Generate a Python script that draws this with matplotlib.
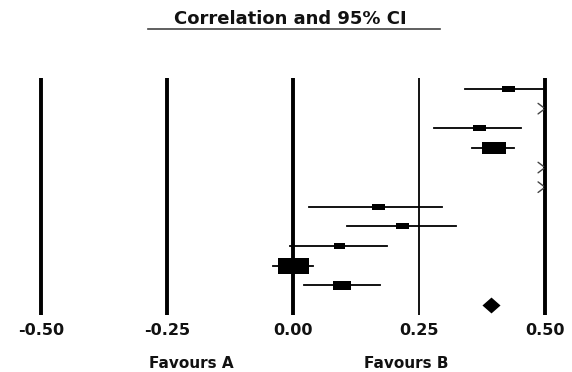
import numpy as np
import matplotlib
matplotlib.use("Agg")
import matplotlib.pyplot as plt
from matplotlib.path import Path
from matplotlib.lines import Line2D

# study rows, top to bottom (lo > 0.5 means off the scale)
est = [0.427, 0.62, 0.369, 0.399, 0.58, 0.60, 0.169, 0.216, 0.091, 0.000, 0.097]
lo = [0.341, 0.55, 0.280, 0.355, 0.52, 0.53, 0.032, 0.107, -0.006, -0.040, 0.022]
hi = [0.52, 0.69, 0.452, 0.438, 0.65, 0.68, 0.296, 0.323, 0.187, 0.040, 0.173]
weight = [13, 13, 13, 24, 13, 13, 13, 13, 11, 31, 18]
pooled = 0.393

ticks = [-0.50, -0.25, 0.00, 0.25, 0.50]
tick_labels = ["-0.50", "-0.25", "0.00", "0.25", "0.50"]
xmin, xmax = -0.50, 0.50

plt.rcParams['font.family'] = 'DejaVu Sans'

fig = plt.figure(figsize=(5.72, 3.72), dpi=100)
W, H = 572, 372
ax = fig.add_axes([30 / W, (H - 315) / H, 526 / W, 237 / H])

n = len(est) + 1
rows = np.arange(n)

# reference lines
widths = [2.8, 2.8, 2.8, 1.3, 2.8]
for t, lw in zip(ticks, widths):
    ax.axvline(t, color="black", lw=lw, zorder=1)

box = Path([(-1, -0.5), (1, -0.5), (1, 0.5), (-1, 0.5), (-1, -0.5)],
           [Path.MOVETO, Path.LINETO, Path.LINETO, Path.LINETO, Path.CLOSEPOLY])
diamond = Path([(0, 0.44), (0.5, 0), (0, -0.44), (-0.5, 0), (0, 0.44)],
               [Path.MOVETO, Path.LINETO, Path.LINETO, Path.LINETO, Path.CLOSEPOLY])

for i in range(len(est)):
    if lo[i] > xmax:
        # whole interval off the scale: arrow head at the edge
        y = rows[i]
        for dy in (3.8, -3.8):
            ax.annotate("", xy=(xmax, y), xytext=(-5, dy), textcoords="offset points",
                        arrowprops=dict(arrowstyle="-", color="#444444", lw=1.0,
                                        shrinkA=0, shrinkB=1.2))
        continue
    ax.plot([max(lo[i], xmin), min(hi[i], xmax)], [rows[i], rows[i]],
            color="black", lw=1.3, zorder=2)
    ax.plot(est[i], rows[i], marker=box, ms=weight[i] * 0.72,
            color="black", mew=0, zorder=3)

ax.plot(pooled, rows[-1], marker=diamond, ms=13, color="black", mew=0, zorder=3)

ax.set_xlim(-0.5 - 11 / 504, 0.5 + 11 / 504)
ax.set_ylim(n - 1 + 10 / 19.64, -11 / 19.64)
ax.set_xticks(ticks)
ax.set_xticklabels(tick_labels, fontsize=11.5, fontweight="bold", color="#111111")
ax.tick_params(axis="x", length=0, pad=6)
ax.set_yticks([])
for s in ax.spines.values():
    s.set_visible(False)

fig.text(290 / W, 1 - 19 / H, "Correlation and 95% CI", ha="center", va="center",
         fontsize=13, fontweight="bold", color="#111111")
fig.add_artist(Line2D([148 / W, 440 / W], [1 - 29 / H, 1 - 29 / H],
                      color="#444444", lw=1.2))
fig.text(191 / W, 1 - 364 / H, "Favours A", ha="center", va="center",
         fontsize=11, fontweight="bold", color="#111111")
fig.text(406 / W, 1 - 364 / H, "Favours B", ha="center", va="center",
         fontsize=11, fontweight="bold", color="#111111")

plt.savefig("out.png", dpi=100)
